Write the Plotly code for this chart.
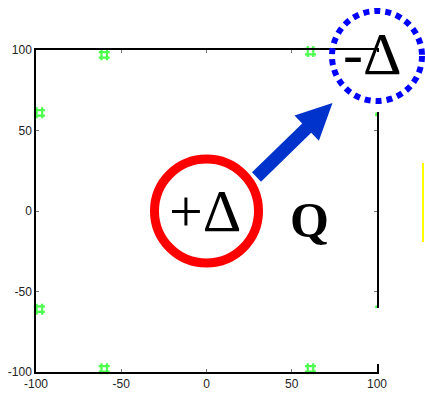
import numpy as np
import plotly.graph_objects as go

# Boundary sample points (green markers)
pts_x = [-60, 61, -98, -98, -60, 61, 100, 100]
pts_y = [97, 99, 61, -61, -98, -98, 60, -60]
pts_size = [11, 11, 11, 11, 11, 11, 3, 3]

tick_vals = [-100, -50, 0, 50, 100]
tick_text = ["-100", "-50", "0", "50", "100"]

fig = go.Figure()
fig.add_trace(go.Scatter(
    x=pts_x, y=pts_y, mode="markers",
    marker=dict(symbol="hash-open", size=pts_size, color="#00ff00",
                line=dict(width=2.2, color="#11ff11")),
    showlegend=False, cliponaxis=False, hoverinfo="skip",
))

W, H = 425, 394
ML, MR, MT, MB = 36, 48, 50, 22
PW, PH = W - ML - MR, H - MT - MB


def px_to_paper(px, py):
    return (px - ML) / PW, (H - MB - py) / PH


axis_common = dict(
    range=[-100, 100], tickvals=tick_vals, ticktext=tick_text,
    showgrid=False, zeroline=False, showline=True, linecolor="black",
    linewidth=1.5, mirror="ticks", ticks="inside", ticklen=3,
    tickcolor="#777777", tickwidth=1, automargin=False,
    tickfont=dict(family="Liberation Sans, Arial, sans-serif", size=12,
                  color="#222222"),
)

fig.update_layout(
    width=W, height=H, margin=dict(l=ML, r=MR, t=MT, b=MB, autoexpand=False),
    paper_bgcolor="white", plot_bgcolor="white",
    xaxis=axis_common, yaxis=axis_common,
)

shapes = []
# gaps in the right frame edge
gx0, gy_top = px_to_paper(374, 52)
gx1, gy_a = px_to_paper(385, 112)
_, gy_b = px_to_paper(0, 308)
_, gy_c = px_to_paper(0, 364)
shapes.append(dict(type="rect", xref="paper", yref="paper",
                   x0=gx0, x1=gx1, y0=gy_a, y1=gy_top,
                   fillcolor="white", line=dict(width=0), layer="above"))
shapes.append(dict(type="rect", xref="paper", yref="paper",
                   x0=gx0, x1=gx1, y0=gy_c, y1=gy_b,
                   fillcolor="white", line=dict(width=0), layer="above"))

# red circle around +Δ
r_red = 52
shapes.append(dict(type="circle", xref="x", yref="y",
                   xsizemode="pixel", ysizemode="pixel", xanchor=0, yanchor=0,
                   x0=-r_red, x1=r_red, y0=-r_red, y1=r_red,
                   line=dict(color="#ff0000", width=9), layer="above"))

# arrow from the red circle toward the blue circle (pixel offsets from origin)
tail = np.array([50.0, 34.0])
tip = np.array([126.0, 108.0])
d = (tip - tail) / np.linalg.norm(tip - tail)
n = np.array([-d[1], d[0]])
head_len, head_half, shaft_half = 36.0, 17.5, 6.5
base = tip - d * head_len
poly = [tail + n * shaft_half, base + n * shaft_half, base + n * head_half,
        tip, base - n * head_half, base - n * shaft_half, tail - n * shaft_half]
path = "M" + " L".join(f"{p[0]:.1f},{p[1]:.1f}" for p in poly) + " Z"
shapes.append(dict(type="path", xref="x", yref="y",
                   xsizemode="pixel", ysizemode="pixel", xanchor=0, yanchor=0,
                   path=path, fillcolor="#0033cc", line=dict(width=0),
                   layer="above"))

# dotted blue circle around -Δ
r_blue = 45
bx, by = px_to_paper(377, 56)
shapes.append(dict(type="circle", xref="paper", yref="paper",
                   xsizemode="pixel", ysizemode="pixel",
                   xanchor=bx, yanchor=by,
                   x0=-r_blue, x1=r_blue, y0=-r_blue, y1=r_blue,
                   line=dict(color="#0000ff", width=6, dash="6px,5px"),
                   layer="above"))

# yellow marker line at right edge
yx, yy0 = px_to_paper(423, 242)
_, yy1 = px_to_paper(423, 163)
shapes.append(dict(type="line", xref="paper", yref="paper",
                   x0=yx, x1=yx, y0=yy0, y1=yy1,
                   line=dict(color="#ffff00", width=2), layer="above"))

fig.update_layout(shapes=shapes)

serif = "Liberation Serif, Times New Roman, serif"
fig.add_annotation(x=-1, y=0, xref="x", yref="y", text="+Δ", showarrow=False,
                   xanchor="center", yanchor="middle",
                   font=dict(family=serif, size=60, color="black"))
fig.add_annotation(x=60.7, y=-5.6, xref="x", yref="y", text="<b>Q</b>",
                   showarrow=False, xanchor="center", yanchor="middle",
                   font=dict(family=serif, size=50, color="black"))
tx, ty = px_to_paper(372, 54)
fig.add_annotation(x=tx, y=ty, xref="paper", yref="paper", text="-Δ",
                   showarrow=False, xanchor="center", yanchor="middle",
                   font=dict(family=serif, size=60, color="black"))

fig.write_html("out.html")
